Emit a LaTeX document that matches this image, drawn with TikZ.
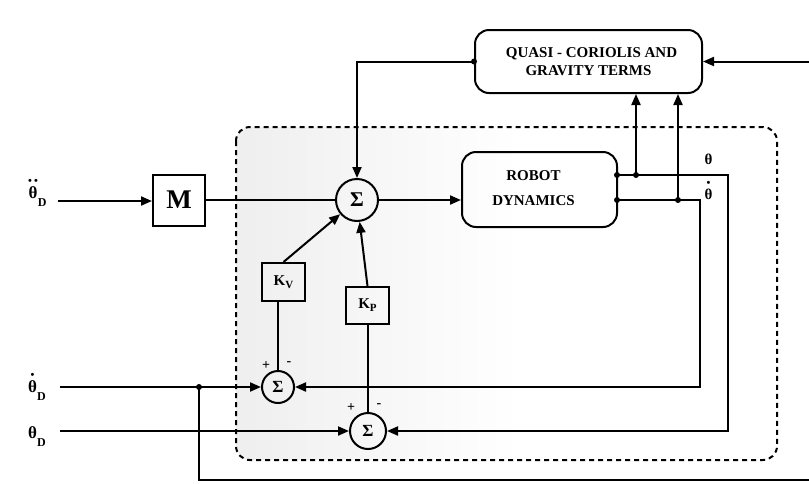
\documentclass[tikz,border=0pt]{standalone}
\usepackage{fontspec}
\setmainfont{Liberation Serif}
\usetikzlibrary{arrows.meta,calc}
\newcommand\overdots[2]{\leavevmode\vbox{\offinterlineskip\halign{\hfil##\hfil\cr #1\cr\noalign{\kern 2pt}#2\cr}}}
\newcommand\dt{{\fontsize{11}{11}\selectfont\textbullet}}
\newcommand\lowsub[1]{\raisebox{-8pt}{\fontsize{12}{12}\selectfont #1}}
\begin{document}
\begin{tikzpicture}[x=1pt,y=-1pt,
  ln/.style={line width=2pt},
  arr/.style={ln,-{Triangle[length=11pt,width=9pt]}},
  blk/.style={draw,line width=2pt,inner sep=0pt,font=\bfseries\fontsize{15}{18}\selectfont,align=center},
  sumn/.style={draw,circle,line width=2pt,inner sep=0pt,font=\bfseries\fontsize{17}{17}\selectfont},
  lab/.style={inner sep=0pt,font=\bfseries\fontsize{17}{17}\selectfont},
  sgn/.style={inner sep=0pt,font=\bfseries\fontsize{14}{14}\selectfont}]
\useasboundingbox (0,0) rectangle (809,483);
% shaded controller area
\begin{scope}
\clip[rounded corners=14pt] (236,127) rectangle (777,460);
\shade[left color=gray!13,right color=white] (236,127) rectangle (520,460);
\end{scope}
\draw[line width=2pt, dash pattern=on 5pt off 4pt, rounded corners=14pt] (236,127) rectangle (777,460);

% blocks
\node[blk,minimum width=52pt,minimum height=51pt,font=\bfseries\fontsize{27}{27}\selectfont] (M) at (179,200) {M};
\node[sumn,minimum size=42pt,font=\bfseries\fontsize{21}{21}\selectfont] (S1) at (357,200) {Σ};
\node[blk,rounded corners=14pt,minimum width=155pt,minimum height=75pt] (RD) at (539.5,189.5)
  {\begin{tabular}{@{}c@{}}ROBOT\\[7pt]DYNAMICS\end{tabular}\hspace{12pt}};
\node[blk,rounded corners=14pt,minimum width=227pt,minimum height=63pt] (QC) at (588.5,61.5)
  {\hspace{6pt}QUASI - CORIOLIS AND\\GRAVITY TERMS};
\node[blk,minimum width=43pt,minimum height=38pt,font=\bfseries\fontsize{15}{15}\selectfont] (KV) at (283.5,282)
  {K\raisebox{-3pt}{\fontsize{11}{11}\selectfont V}};
\node[blk,minimum width=43pt,minimum height=37pt,font=\bfseries\fontsize{15}{15}\selectfont] (KP) at (367.5,305.5)
  {K\raisebox{-3pt}{\fontsize{11}{11}\selectfont P}};
\node[sumn,minimum size=32pt] (S2) at (278,387) {Σ};
\node[sumn,minimum size=36pt] (S3) at (368,431) {Σ};

% labels
\node[lab,anchor=base west] (Lthdd) at (28,198) {\overdots{\dt\kern2pt\dt}{θ}\lowsub{D}};
\node[lab,anchor=base west] (Lthd) at (28,392) {\overdots{\dt}{θ}\lowsub{D}};
\node[lab,anchor=base west] (Lth) at (28,438) {θ\lowsub{D}};
\node[lab,anchor=base,font=\bfseries\fontsize{15}{15}\selectfont] (Oth) at (708.5,164) {θ};
\node[lab,anchor=base,font=\bfseries\fontsize{15}{15}\selectfont] (Othd) at (708.5,199) {\overdots{\dt}{θ}};
\node[sgn] (p2) at (266,366) {+};
\node[sgn] (m2) at (289,364) {-};
\node[sgn] (p3) at (351,408) {+};
\node[sgn] (m3) at (379,406) {-};

% coordinates
\coordinate (in1) at (58,201);
\coordinate (in2) at (60,387);
\coordinate (in3) at (60,431);
\coordinate (J3) at (199,387);
\coordinate (B1) at (199,480);
\coordinate (B2) at (809,480);
\coordinate (R1) at (809,61.5);
\coordinate (thO) at (617,175);
\coordinate (thdO) at (617,200);
\coordinate (J1) at (636,175);
\coordinate (J2) at (678,200);
\coordinate (C1) at (728,175);
\coordinate (C2) at (700,200);

% connectors
\draw[arr] (in1) -- (in1 -| M.west);
\draw[ln] (M) -- (S1);
\draw[arr] (S1) -- (S1.east -| RD.west);
\draw[arr] (R1) -- (QC.east);
\draw[arr] (QC.west) -| (S1.north);
\draw[arr] (thO) -- (C1) |- (S3.east);
\draw[arr] (thdO) -- (C2) |- (S2.east);
\draw[arr] (J1) -- (J1 |- QC.south);
\draw[arr] (J2) -- (J2 |- QC.south);
\draw[arr] (in2) -- (S2.west);
\draw[arr] (in3) -- (S3.west);
\draw[ln] (J3) -- (B1) -- (B2);
\draw[ln] (S2) -- (S2 |- KV.south);
\draw[ln] (S3) -- (S3 |- KP.south);
\draw[arr] (KV.north) -- (S1);
\draw[arr] (KP.north) -- (S1);

% junction dots
\foreach \p in {thO,thdO,J1,J2,J3,QC.west} \fill (\p) circle (3pt);
\end{tikzpicture}
\end{document}
